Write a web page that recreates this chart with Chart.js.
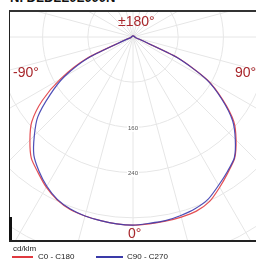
<!DOCTYPE html>
<html>
<head>
<meta charset="utf-8">
<script src="https://cdn.jsdelivr.net/npm/chart.js@4.4.1/dist/chart.umd.min.js"></script>
<style>
  body { margin: 0; width: 256px; height: 263px; background: #fff; overflow: hidden; position: relative; font-family: "Liberation Sans", Arial, sans-serif; }
  #title { position: absolute; left: 10px; top: -9px; font-size: 13px; line-height: 13px; font-weight: bold; color: #111; white-space: nowrap; }
  #frame { position: absolute; left: 9px; top: 10px; width: 247px; height: 228px; border-top: 2px solid #333; border-left: 1px solid #222; border-bottom: 2px solid #222; }
  #frame canvas { position: absolute; left: 0; top: 0; }
  #stub { position: absolute; left: 9px; top: 217px; width: 3px; height: 23px; background: #111; }
  .ang { position: absolute; font-size: 14px; line-height: 14px; color: #a8262b; white-space: nowrap; }
  .leg { position: absolute; font-size: 8px; line-height: 8px; color: #222; white-space: nowrap; }
  .swatch { position: absolute; height: 2px; }
</style>
</head>
<body>
<div id="title">N. DLDLL0L000N</div>
<div id="frame"><canvas id="ldc" width="246" height="228"></canvas></div>
<div id="stub"></div>
<div class="ang" style="left:118px; top:14px;">±180°</div>
<div class="ang" style="left:13px; top:65px;">-90°</div>
<div class="ang" style="left:235px; top:65px;">90°</div>
<div class="ang" style="left:128px; top:226px;">0°</div>
<div class="leg" style="left:13px; top:245px;">cd/klm</div>
<div class="swatch" style="left:12px; top:256px; width:21px; background:#e0393f;"></div>
<div class="leg" style="left:38px; top:253px;">C0 - C180</div>
<div class="swatch" style="left:96px; top:256px; width:27px; background:#3a3aa8;"></div>
<div class="leg" style="left:127px; top:253px;">C90 - C270</div>
<script>
// gamma angles, clockwise from the top (180) through 90 (right), 0 (bottom), -90 (left)
const gammaLabels = [
  180, 175, 170, 165, 160, 155, 150, 145, 140, 135, 130, 125,
  120, 115, 110, 105, 100, 95, 90, 85, 80, 75, 70, 65,
  60, 55, 50, 45, 40, 35, 30, 25, 20, 15, 10, 5,
  0, -5, -10, -15, -20, -25, -30, -35, -40, -45, -50, -55,
  -60, -65, -70, -75, -80, -85, -90, -95, -100, -105, -110, -115,
  -120, -125, -130, -135, -140, -145, -150, -155, -160, -165, -170, -175
];

// cd/klm
const c0c180 = [
  2, 2, 2, 2, 2, 2, 2, 2, 2, 2, 2, 2,
  2, 2, 3, 3, 3, 3, 3, 4, 4, 5, 12, 88,
  152, 194, 233, 258, 280, 293, 307, 321, 328, 330, 331, 332,
  333, 332, 330, 328, 325, 318, 307, 293, 280, 258, 234, 196,
  148, 92, 12, 4, 4, 3, 3, 3, 3, 3, 2, 2,
  2, 2, 2, 2, 2, 2, 2, 2, 2, 2, 2, 2
];
const c90c270 = [
  2, 2, 2, 2, 2, 2, 2, 2, 2, 2, 2, 2,
  2, 2, 3, 3, 3, 3, 3, 4, 4, 5, 12, 86,
  150, 192, 230, 256, 279, 291, 303, 316, 323, 327, 330, 331,
  333, 332, 330, 328, 324, 317, 305, 290, 273, 247, 220, 180,
  140, 86, 11, 4, 4, 3, 3, 3, 3, 3, 2, 2,
  2, 2, 2, 2, 2, 2, 2, 2, 2, 2, 2, 2
];

const ringStep = 80;
const ringMax = 480;
const ringLabels = [160, 240];

// the diagram origin sits near the top of the frame
const originX = 123;
const originY = 25;
const pxPerCd = 0.565;

const ringLabelPlugin = {
  id: "ringLabels",
  afterDatasetsDraw(chart) {
    const s = chart.scales.r;
    const ctx = chart.ctx;
    ctx.save();
    ctx.font = '6px "Liberation Sans", Arial, sans-serif';
    ctx.textAlign = "center";
    ctx.textBaseline = "middle";
    ringLabels.forEach(v => {
      const y = s.yCenter + s.getDistanceFromCenterForValue(v) + 1;
      const w = ctx.measureText(String(v)).width;
      ctx.fillStyle = "#fff";
      ctx.fillRect(s.xCenter - w / 2 - 1, y - 3.5, w + 2, 7);
      ctx.fillStyle = "#555";
      ctx.fillText(String(v), s.xCenter, y);
    });
    ctx.restore();
  }
};

const ctx = document.getElementById("ldc").getContext("2d");
new Chart(ctx, {
  type: "radar",
  data: {
    labels: gammaLabels,
    datasets: [
      { label: "C90 - C270", data: c90c270, borderColor: "rgba(60,60,175,0.9)", borderWidth: 1.2, pointRadius: 0, fill: false },
      { label: "C0 - C180", data: c0c180, borderColor: "rgba(225,60,65,0.9)", borderWidth: 1.2, pointRadius: 0, fill: false }
    ]
  },
  options: {
    responsive: false,
    animation: false,
    devicePixelRatio: 1,
    layout: { padding: 0 },
    plugins: { legend: { display: false }, tooltip: { enabled: false } },
    elements: { line: { tension: 0.25 } },
    scales: {
      r: {
        min: 0,
        max: ringMax,
        ticks: { stepSize: ringStep, display: false },
        pointLabels: { display: false },
        grid: { circular: true, color: "#e6e6e6", lineWidth: 1 },
        angleLines: {
          color: "#e6e6e6",
          lineWidth: c => (c.index % 3 === 0 ? 1 : 0)
        },
        afterFit: s => {
          s.xCenter = originX;
          s.yCenter = originY;
          s.drawingArea = ringMax * pxPerCd;
        }
      }
    }
  },
  plugins: [ringLabelPlugin]
});
</script>
</body>
</html>
